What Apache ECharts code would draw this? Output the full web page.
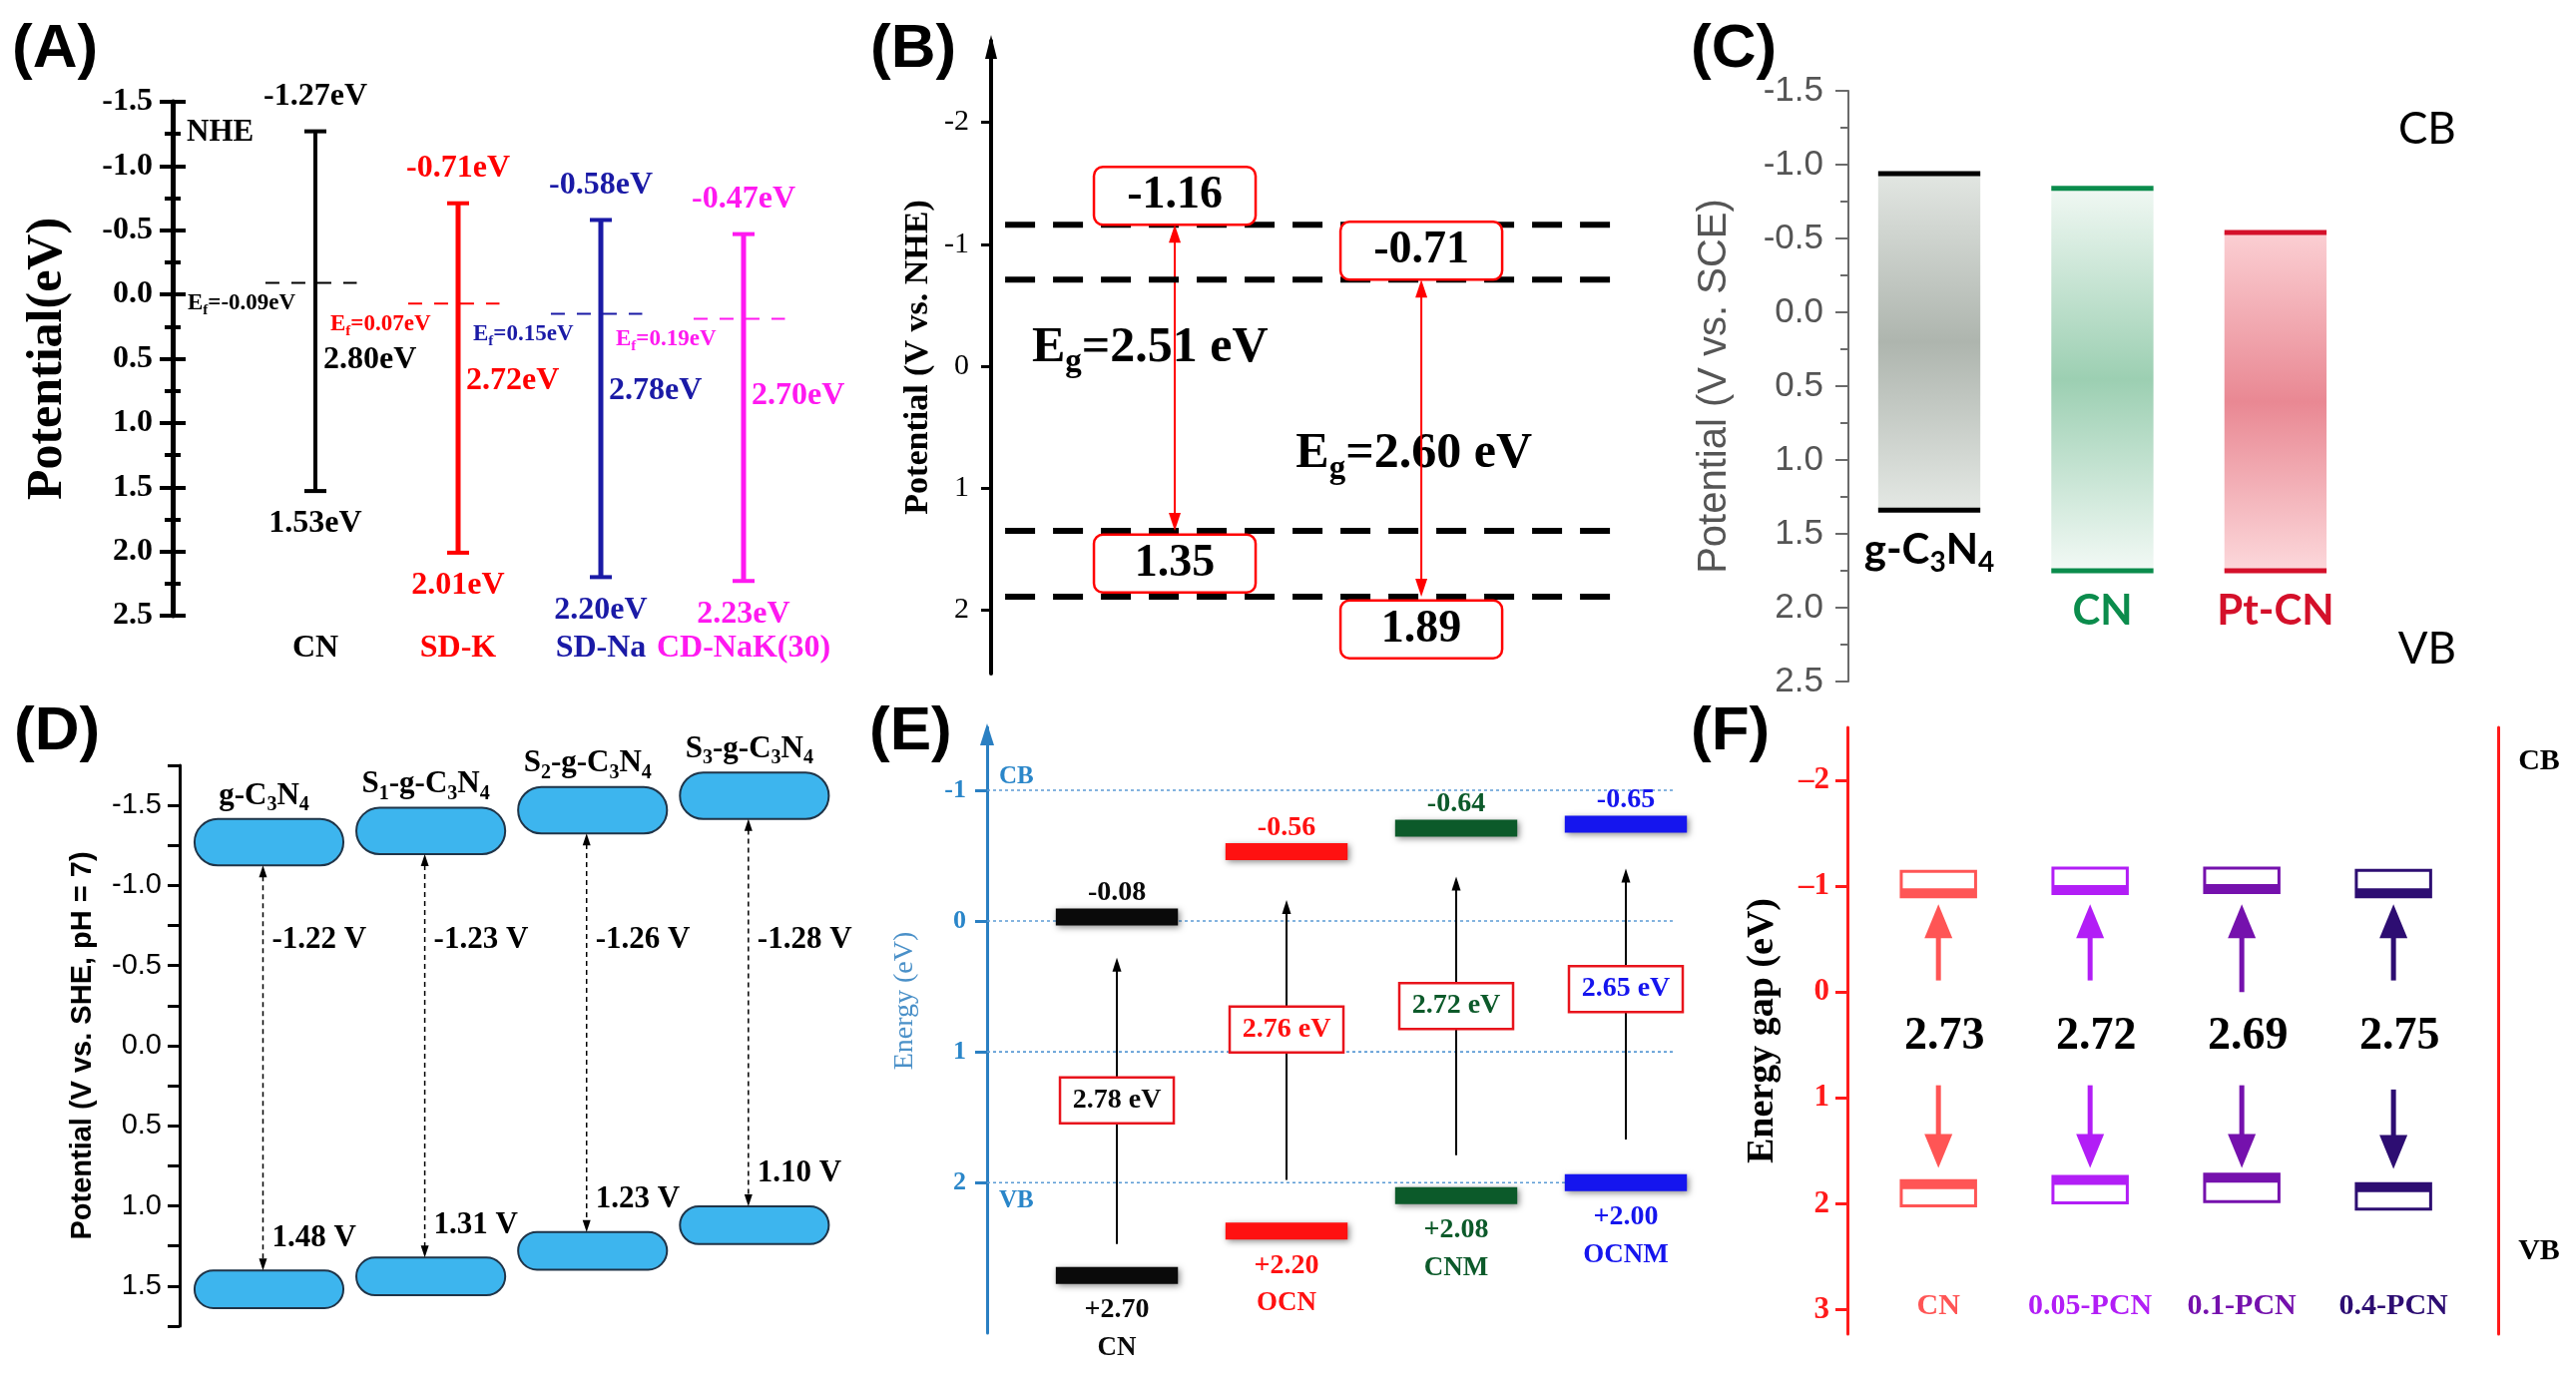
<!DOCTYPE html>
<html><head><meta charset="utf-8">
<script src="https://cdn.jsdelivr.net/npm/echarts@6/dist/echarts.min.js"></script>
<style>html,body{margin:0;padding:0;background:#fff}#c{width:2581px;height:1377px}</style>
</head><body><div id="c"></div>
<script>
// ================= DATA =================
// (A)
const aCats = ['CN','SD-K','SD-Na','CD-NaK(30)'];
const aCB = [-1.27,-0.71,-0.58,-0.47];
const aVB = [1.53,2.01,2.20,2.23];
const aGap = [2.80,2.72,2.78,2.70];
const aEf = [-0.09,0.07,0.15,0.19];
// (B)
const bCB = [-1.16,-0.71];
const bVB = [1.35,1.89];
const bGap = [2.51,2.60];
const bTicks = [-2,-1,0,1,2];
// (C)
const cCats = ['g-C_3N_4','CN','Pt-CN'];
const cCB = [-0.94,-0.84,-0.54];
const cVB = [1.34,1.75,1.75];
// (D)
const dCats = ['g-C_3N_4','S_1-g-C_3N_4','S_2-g-C_3N_4','S_3-g-C_3N_4'];
const dCB = [-1.27,-1.34,-1.47,-1.56];
const dVB = [1.52,1.44,1.28,1.12];
const dCBText = ['-1.22 V','-1.23 V','-1.26 V','-1.28 V'];
const dVBText = ['1.48 V','1.31 V','1.23 V','1.10 V'];
// (E)
const eCats = ['CN','OCN','CNM','OCNM'];
const eCBText = ['-0.08','-0.56','-0.64','-0.65'];
const eVBText = ['+2.70','+2.20','+2.08','+2.00'];
const eGapText = ['2.78 eV','2.76 eV','2.72 eV','2.65 eV'];
const eCB = [-0.03,-0.53,-0.71,-0.74];
const eVB = [2.71,2.37,2.10,2.00];
const eArrowFrom = [2.47,1.98,1.79,1.67];
const eArrowTo = [0.28,-0.16,-0.34,-0.40];
const eBoxMid = [1.37,0.83,0.65,0.52];
const eTicks = [-1,0,1,2];
// (F)
const fCats = ['CN','0.05-PCN','0.1-PCN','0.4-PCN'];
const fGap = ['2.73','2.72','2.69','2.75'];
const fCBTop = [-1.14,-1.17,-1.17,-1.15];
const fCBBot = [-0.90,-0.93,-0.94,-0.90];
const fVBTop = [1.78,1.74,1.72,1.81];
const fVBBot = [2.02,1.99,1.98,2.05];
const fUpFrom = [-0.11,-0.11,0.0,-0.11];
const fUpTo = [-0.83,-0.83,-0.83,-0.83];
const fDownFrom = [0.88,0.88,0.88,0.92];
const fDownTo = [1.66,1.66,1.66,1.67];
const fTicks = [-2,-1,0,1,2,3];

// ================= STYLE / HELPERS =================
const SERIF='"Liberation Serif","Times New Roman",serif';
const SANS='"Liberation Sans",Arial,sans-serif';
const CAL='Lato,"Open Sans",sans-serif';
const A_COL=['#000000','#ff0000','#1a1aa6','#ff19f0'];
const C_COL=['#000000','#0b8c4c','#d4102a'];
const C_GRAD=[['#e2e6e2','#aeb5ae','#e4e8e4'],['#f0f8f3','#9ccfb2','#f2f9f5'],['#fbcfd3','#e98893','#fcd8db']];
const E_COL=['#0a0a0a','#ff1111','#0c5a2a','#1515ee'];
const F_COL=['#ff5555','#b21ef6','#7511ad','#2d0d72'];

const mctx=document.createElement('canvas').getContext('2d');
function F(w,s,f){return w+' '+s+'px '+f;}
function T(str,x,y,o){
  const size=o.size, fam=o.fam||SERIF, w=o.w||'bold', color=o.color||'#000', align=o.align||'center';
  const sub=Math.round(size*0.66);
  const parts=[]; let i=0, buf='';
  while(i<str.length){ if(str[i]==='_'){ if(buf){parts.push([buf,0]);buf='';} parts.push([str[i+1],1]); i+=2;} else {buf+=str[i];i++;} }
  if(buf) parts.push([buf,0]);
  const widths=parts.map(p=>{mctx.font=F(w,p[1]?sub:size,fam);return mctx.measureText(p[0]).width;});
  const tot=widths.reduce((a,b)=>a+b,0);
  let sx= align==='left'?x:align==='right'?x-tot:x-tot/2;
  return parts.map((p,k)=>{const el={type:'text',x:sx,y:y+(p[1]?size*0.3:0),style:{text:p[0],font:F(w,p[1]?sub:size,fam),fill:color,align:'left',verticalAlign:'middle',textAlign:'left',textVerticalAlign:'middle'}}; sx+=widths[k]; return el;});
}
function L(x1,y1,x2,y2,stroke,lw,dash){return {type:'line',shape:{x1,y1,x2,y2},style:{stroke,lineWidth:lw,lineDash:dash||null}};}
function R(x,y,w,h,style,r){return {type:'rect',shape:{x,y,width:w,height:h,r:r||0},style};}
function VA(x,y1,y2,o){
  const els=[]; const hl=o.hl, hw=o.hw; const dir=y2>y1?1:-1;
  let a=y1,b=y2;
  if(o.start) a=y1+dir*hl*0.9;
  b=y2-dir*hl*0.9;
  els.push(L(x,a,x,b,o.color,o.lw,o.dash));
  const head=(tipY,d)=>({type:'polygon',shape:{points:[[x,tipY],[x-hw/2,tipY-d*hl],[x+hw/2,tipY-d*hl]]},style:{fill:o.color}});
  els.push(head(y2,dir));
  if(o.start) els.push(head(y1,-dir));
  return els;
}
function arrowUp(x,tipY,color,w,h){return {type:'polygon',shape:{points:[[x,tipY],[x-w/2,tipY+h],[x+w/2,tipY+h]]},style:{fill:color}};}

// ================= RENDERERS =================
function renderA(p,api){
  const i=p.dataIndex, c=A_COL[i], ux=api.size([1,1])[0];
  const top=api.coord([i,aCB[i]]), bot=api.coord([i,aVB[i]]), ef=api.coord([i,aEf[i]]);
  const X=top[0];
  const els=[
    L(X,top[1],X,bot[1],c,i?5:4),
    L(X-11,top[1],X+11,top[1],c,4),
    L(X-11,bot[1],X+11,bot[1],c,4),
    L(X-0.35*ux,ef[1],X+0.29*ux,ef[1],c,2,[14,12])
  ];
  els.push(...T(aCB[i].toFixed(2)+'eV',X,top[1]-35,{size:32,color:c}));
  els.push(...T(aVB[i].toFixed(2)+'eV',X,bot[1]+33,{size:32,color:c}));
  els.push(...T(aGap[i].toFixed(2)+'eV',X+8,api.coord([i,aEf[i]+0.6])[1],{size:32,color:c,align:'left'}));
  els.push(...T('E_f='+aEf[i].toFixed(2)+'eV',X-128,api.coord([i,aEf[i]+0.16])[1],{size:23,color:c,align:'left'}));
  els.push(...T(aCats[i],X,api.coord([i,2.757])[1],{size:32,color:c}));
  if(i===0){const n=api.coord([-1,-1.26]); els.push(...T('NHE',n[0]+14,n[1],{size:31,align:'left'}));}
  return {type:'group',children:els};
}
function renderB(p,api){
  const i=p.dataIndex;
  const cb=api.coord([i,bCB[i]]), vb=api.coord([i,bVB[i]]), X=cb[0];
  const els=[];
  if(i===0){const t=api.coord([-0.745,-2.667]); els.push(arrowUp(t[0],t[1]-6,'#000',12,24));}
  [bCB[i],bVB[i]].forEach(v=>{const a=api.coord([-0.688,v]),b=api.coord([1.834,v]); els.push(L(a[0],a[1],b[0],b[1],'#000',6,[30,18]));});
  const bw=162,bh=58, boxS={fill:'#fff',stroke:'#ff0000',lineWidth:2.5};
  const eg=[[-0.1,-0.15],[-0.03,0.72]][i], ep=api.coord([i+eg[0],eg[1]]);
  els.push(...T('E_g='+bGap[i].toFixed(2)+' eV',ep[0],ep[1],{size:50}));
  els.push(...VA(X,cb[1],vb[1],{start:true,color:'#ff0000',lw:2,hl:18,hw:12}));
  els.push(R(X-bw/2,cb[1]-bh,bw,bh,boxS,9));
  els.push(...T(bCB[i].toFixed(2),X,cb[1]-bh/2,{size:46}));
  const vt=api.coord([i,bVB[i]+0.03])[1];
  els.push(R(X-bw/2,vt,bw,bh,boxS,9));
  els.push(...T(bVB[i].toFixed(2),X,vt+bh/2,{size:46}));
  return {type:'group',children:els};
}
function renderC(p,api){
  const i=p.dataIndex, hw=0.295, g=C_GRAD[i], c=C_COL[i];
  const a=api.coord([i-hw,cCB[i]]), b=api.coord([i+hw,cVB[i]]);
  const els=[
    R(a[0],a[1],b[0]-a[0],b[1]-a[1],{fill:{type:'linear',x:0,y:0,x2:0,y2:1,colorStops:[{offset:0,color:g[0]},{offset:0.5,color:g[1]},{offset:1,color:g[2]}]}}),
    L(a[0],a[1],b[0],a[1],c,5),
    L(a[0],b[1],b[0],b[1],c,5)
  ];
  els.push(...T(cCats[i],(a[0]+b[0])/2,api.coord([i,cVB[i]+0.27])[1],{size:42,fam:CAL,color:c}));
  if(i===2){
    const q=api.coord([2.876,-1.24]), r=api.coord([2.876,2.28]);
    els.push(...T('CB',q[0],q[1],{size:44,fam:CAL,w:'normal'}));
    els.push(...T('VB',r[0],r[1],{size:44,fam:CAL,w:'normal'}));
  }
  return {type:'group',children:els};
}
function renderD(p,api){
  const i=p.dataIndex, u=api.size([1,1]), pw=0.92*u[0];
  const c=api.coord([i,dCB[i]]), v=api.coord([i,dVB[i]]);
  const ch=0.29*u[1], vh=0.235*u[1];
  const pill={fill:'#3db5ee',stroke:'#1f3448',lineWidth:2};
  const ax=c[0]-6;
  const els=[
    R(c[0]-pw/2,c[1]-ch/2,pw,ch,pill,ch/2),
    R(v[0]-pw/2,v[1]-vh/2,pw,vh,pill,vh/2)
  ];
  els.push(...VA(ax,c[1]+ch/2,v[1]-vh/2,{start:true,color:'#000',lw:1.5,hl:12,hw:8,dash:[5,4]}));
  els.push(...T(dCBText[i],ax+9,api.coord([i,-0.66])[1],{size:31,align:'left'}));
  els.push(...T(dVBText[i],ax+9,api.coord([i,dVB[i]-0.32])[1],{size:31,align:'left'}));
  els.push(...T(dCats[i],c[0]-5,api.coord([i,dCB[i]-0.29])[1],{size:31}));
  return {type:'group',children:els};
}
function renderE(p,api){
  const i=p.dataIndex, u=api.size([1,1]), c=E_COL[i], els=[];
  const bw=0.72*u[0], bh=0.13*u[1];
  if(i===0){
    eTicks.forEach(t=>{const a=api.coord([-0.765,t]),b=api.coord([3.294,t]); els.push(L(a[0],a[1],b[0],b[1],'#5b9bd5',1.6,[3,3]));});
    const top=api.coord([-0.765,-1.48]); els.push(arrowUp(top[0],top[1]-4,'#2a7fc2',14,22));
    const q=api.coord([-0.765,-1.10]); els.push(...T('CB',q[0]+12,q[1],{size:25,color:'#2a86c9',align:'left'}));
    const r=api.coord([-0.765,2.14]); els.push(...T('VB',r[0]+12,r[1],{size:25,color:'#2a86c9',align:'left'}));
    const tp=api.coord([-0.765,0.61]);
    els.push({type:'text',x:tp[0]-82,y:tp[1],rotation:Math.PI/2,style:{text:'Energy (eV)',font:F('normal',28,SERIF),fill:'#4a90c8',align:'center',verticalAlign:'middle',textAlign:'center',textVerticalAlign:'middle'}});
  }
  const cb=api.coord([i,eCB[i]]), vb=api.coord([i,eVB[i]]), X=cb[0];
  const bar={fill:c,shadowBlur:6,shadowColor:'rgba(0,0,0,0.45)',shadowOffsetX:2,shadowOffsetY:2};
  els.push(R(X-bw/2,cb[1]-bh/2,bw,bh,bar));
  els.push(R(X-bw/2,vb[1]-bh/2,bw,bh,bar));
  els.push(...VA(X,api.coord([i,eArrowFrom[i]])[1],api.coord([i,eArrowTo[i]])[1],{color:'#000',lw:2,hl:14,hw:9}));
  const mid=api.coord([i,eBoxMid[i]])[1];
  els.push(R(X-57,mid-23,114,46,{fill:'#fff',stroke:'#e8141c',lineWidth:2.5}));
  els.push(...T(eGapText[i],X,mid,{size:28,color:c}));
  els.push(...T(eCBText[i],X,api.coord([i,eCB[i]-0.185])[1],{size:28,color:c}));
  const vl=api.coord([i,eVB[i]+0.265])[1];
  els.push(...T(eVBText[i],X,vl,{size:28,color:c}));
  els.push(...T(eCats[i],X,vl+0.29*u[1],{size:27,color:c}));
  return {type:'group',children:els};
}
function renderF(p,api){
  const i=p.dataIndex, u=api.size([1,1]), c=F_COL[i], els=[];
  const bw=0.49*u[0], st=0.08*u[1];
  const ct=api.coord([i,fCBTop[i]]), cbm=api.coord([i,fCBBot[i]]), X=ct[0];
  const vt=api.coord([i,fVBTop[i]]), vbm=api.coord([i,fVBBot[i]]);
  els.push(R(X-bw/2,ct[1],bw,cbm[1]-ct[1],{fill:'none',stroke:c,lineWidth:3}));
  els.push(R(X-bw/2,cbm[1]-st,bw,st,{fill:c}));
  els.push(R(X-bw/2,vt[1],bw,vbm[1]-vt[1],{fill:'none',stroke:c,lineWidth:3}));
  els.push(R(X-bw/2,vt[1],bw,st,{fill:c}));
  els.push(...VA(X,api.coord([i,fUpFrom[i]])[1],api.coord([i,fUpTo[i]])[1],{color:c,lw:5,hl:34,hw:28}));
  els.push(...VA(X,api.coord([i,fDownFrom[i]])[1],api.coord([i,fDownTo[i]])[1],{color:c,lw:5,hl:34,hw:28}));
  els.push(...T(fGap[i],X+6,api.coord([i,0.42])[1],{size:46}));
  els.push(...T(fCats[i],X,api.coord([i,2.97])[1],{size:30,color:c}));
  if(i===3){
    const q=api.coord([3.96,-2.18]), r=api.coord([3.96,2.45]);
    els.push(...T('CB',q[0],q[1],{size:30}));
    els.push(...T('VB',r[0],r[1],{size:30}));
  }
  return {type:'group',children:els};
}

// ================= LAYOUT =================
const G=[
  {left:173,top:102,width:715,height:515},
  {left:993,top:41,width:647,height:634},
  {left:1852,top:91,width:584,height:592},
  {left:180,top:767,width:665,height:562},
  {left:989,top:729,width:691,height:607},
  {left:1851,top:729,width:652,height:608}
];
const XR=[[-1,4],[-0.745,1.874],[-0.467,2.9],[-0.552,3.55],[-0.765,3.3],[-0.6,3.69]];
const noSplit={show:false};
const fmt1=v=>v.toFixed(1);

const yAxis=[
  {gridIndex:0,type:'value',inverse:true,min:-1.5,max:2.5,interval:0.5,position:'left',splitLine:noSplit,
   axisLine:{show:true,onZero:false,lineStyle:{color:'#000',width:5}},
   axisTick:{show:true,length:13,lineStyle:{color:'#000',width:4}},
   minorTick:{show:true,splitNumber:2,length:8,lineStyle:{color:'#000',width:4}},
   axisLabel:{margin:20,formatter:fmt1,fontFamily:SERIF,fontWeight:'bold',fontSize:32,color:'#000'},
   name:'Potential(eV)',nameLocation:'middle',nameGap:100,nameTextStyle:{fontFamily:SERIF,fontWeight:'bold',fontSize:50,color:'#000'}},
  {gridIndex:0,type:'value',inverse:true,min:-1.5,max:2.5,interval:0.5,position:'left',splitLine:noSplit,
   axisLine:{show:false,onZero:false},
   axisTick:{show:true,inside:true,length:13,lineStyle:{color:'#000',width:4}},
   minorTick:{show:true,splitNumber:2,length:8,lineStyle:{color:'#000',width:4}},
   axisLabel:{show:false}},
  {gridIndex:1,type:'value',inverse:true,min:-2.667,max:2.519,splitLine:noSplit,
   axisLine:{show:true,onZero:false,lineStyle:{color:'#000',width:4}},
   axisTick:{show:true,customValues:bTicks,length:10,lineStyle:{color:'#000',width:3}},
   axisLabel:{customValues:bTicks,margin:22,fontFamily:SERIF,fontSize:30,color:'#000'},
   name:'Potential (V vs. NHE)',nameLocation:'middle',nameGap:56,nameTextStyle:{fontFamily:SERIF,fontWeight:'bold',fontSize:34,color:'#000'}},
  {gridIndex:2,type:'value',inverse:true,min:-1.5,max:2.5,interval:0.5,splitLine:noSplit,
   axisLine:{show:true,onZero:false,lineStyle:{color:'#6a6a6a',width:2}},
   axisTick:{show:true,length:13,lineStyle:{color:'#6a6a6a',width:2}},
   minorTick:{show:true,splitNumber:2,length:8,lineStyle:{color:'#6a6a6a',width:2}},
   axisLabel:{margin:25,formatter:fmt1,fontFamily:SANS,fontSize:35,color:'#555'},
   name:'Potential (V vs. SCE)',nameLocation:'middle',nameGap:114,nameTextStyle:{fontFamily:SANS,fontSize:40,color:'#555'}},
  {gridIndex:3,type:'value',inverse:true,min:-1.75,max:1.75,interval:0.25,splitLine:noSplit,
   axisLine:{show:true,onZero:false,lineStyle:{color:'#000',width:3}},
   axisTick:{show:true,length:12,lineStyle:{color:'#000',width:3}},
   axisLabel:{margin:18,formatter:v=>Math.abs(v*2-Math.round(v*2))<1e-6?v.toFixed(1):'',fontFamily:SANS,fontSize:29,color:'#000'},
   name:'Potential (V vs. SHE, pH = 7)',nameLocation:'middle',nameGap:83,nameTextStyle:{fontFamily:SANS,fontWeight:'bold',fontSize:29,color:'#000'}},
  {gridIndex:4,type:'value',inverse:true,min:-1.48,max:3.15,splitLine:noSplit,
   axisLine:{show:true,onZero:false,lineStyle:{color:'#2a7fc2',width:3}},
   axisTick:{show:true,customValues:eTicks,length:12,lineStyle:{color:'#2a7fc2',width:3}},
   axisLabel:{customValues:eTicks,margin:21,fontFamily:SERIF,fontWeight:'bold',fontSize:26,color:'#2a86c9'}},
  {gridIndex:5,type:'value',inverse:true,min:-2.5,max:3.23,position:'left',splitLine:noSplit,
   axisLine:{show:true,onZero:false,lineStyle:{color:'#ff1a1a',width:3}},
   axisTick:{show:true,customValues:fTicks,length:12,lineStyle:{color:'#ff1a1a',width:3}},
   axisLabel:{customValues:fTicks,margin:18,formatter:v=>v<0?'\u2013'+(-v):String(v),fontFamily:SERIF,fontWeight:'bold',fontSize:31,color:'#ff1a1a'},
   name:'Energy gap (eV)',nameLocation:'middle',nameGap:66,nameTextStyle:{fontFamily:SERIF,fontWeight:'bold',fontSize:38,color:'#000'}},
  {gridIndex:5,type:'value',inverse:true,min:-2.5,max:3.23,position:'right',splitLine:noSplit,
   axisLine:{show:true,onZero:false,lineStyle:{color:'#ff1a1a',width:3}},axisTick:{show:false},axisLabel:{show:false}}
];

function cs(k,yi,data,fn){return {type:'custom',xAxisIndex:k,yAxisIndex:yi,data:data,renderItem:fn,clip:false,silent:true,animation:false};}

const letters=[['(A)',12,19],['(B)',872,19],['(C)',1694,19],['(D)',14,703],['(E)',871,703],['(F)',1694,703]];

const option={
  backgroundColor:'#ffffff',
  animation:false,
  grid:G.map(g=>Object.assign({containLabel:false,outerBoundsMode:'none'},g)),
  xAxis:XR.map((r,k)=>({gridIndex:k,type:'value',min:r[0],max:r[1],show:false,axisLine:{onZero:false}})),
  yAxis:yAxis,
  graphic:letters.map(l=>({type:'text',left:l[1],top:l[2],style:{text:l[0],font:F('bold',62,SANS),fill:'#000'}})),
  series:[
    cs(0,0,aCats.map((c,i)=>[i,aCB[i]]),renderA),
    cs(1,2,bCB.map((v,i)=>[i,v]),renderB),
    cs(2,3,cCats.map((c,i)=>[i,cCB[i]]),renderC),
    cs(3,4,dCats.map((c,i)=>[i,dCB[i]]),renderD),
    cs(4,5,eCats.map((c,i)=>[i,eCB[i]]),renderE),
    cs(5,6,fCats.map((c,i)=>[i,fCBTop[i]]),renderF)
  ]
};
const chart=echarts.init(document.getElementById('c'));
chart.setOption(option);
</script>
</body></html>
